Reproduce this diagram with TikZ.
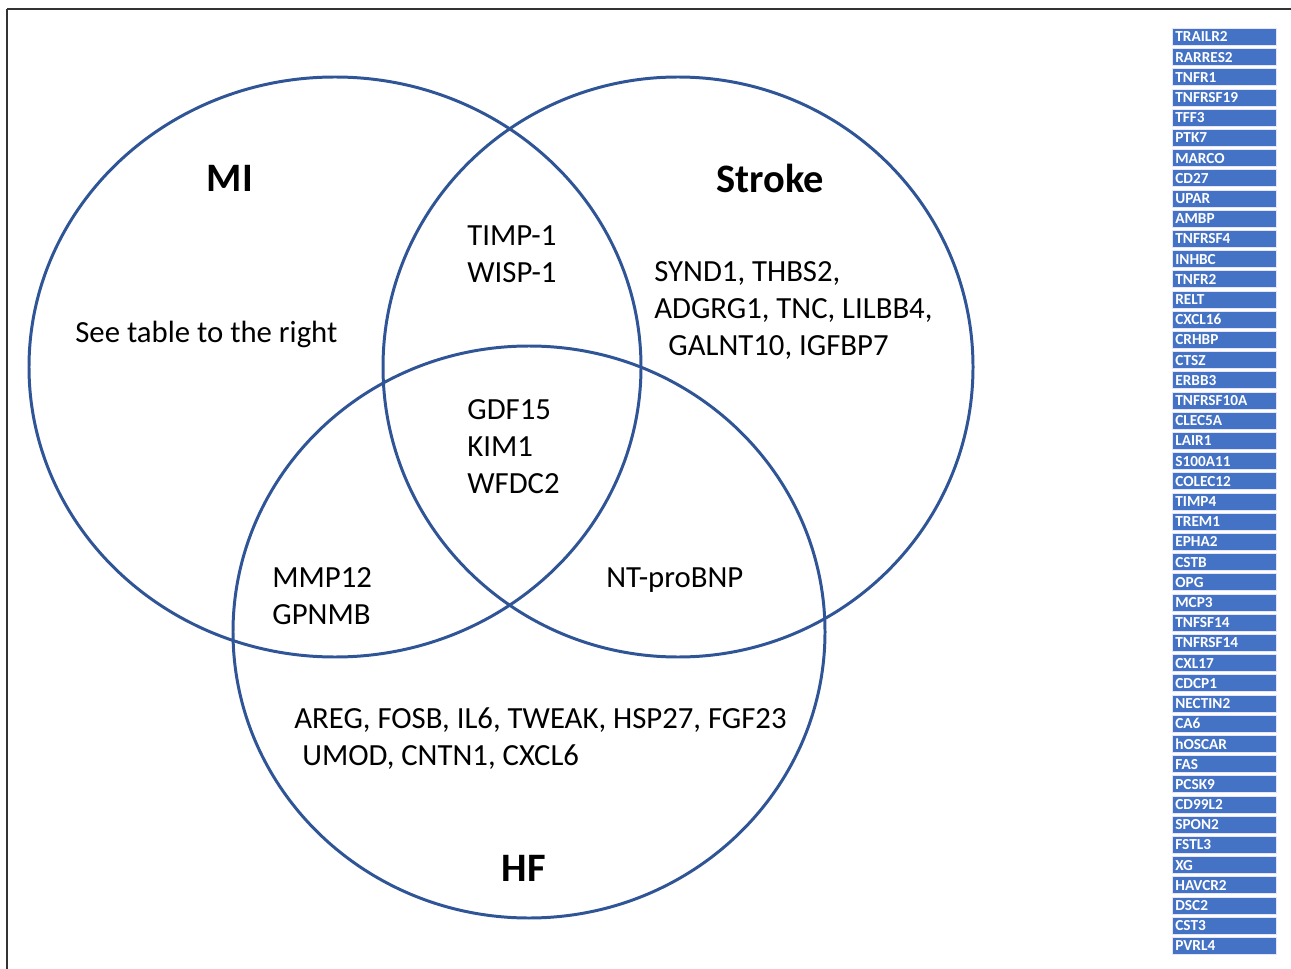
\documentclass[tikz,border=0pt]{standalone}
\usepackage{fontspec}
\setmainfont{Carlito}
\definecolor{vennblue}{RGB}{47,85,151}
\definecolor{tableblue}{RGB}{68,114,196}
\tikzset{
  venn/.style={draw=vennblue, line width=1.7pt},
  setlabel/.style={font=\fontsize{23}{27}\selectfont\bfseries, inner sep=0pt},
  genes/.style={font=\fontsize{17.5}{21}\selectfont, align=left, anchor=north west, inner sep=0pt},
  genebox/.style={fill=tableblue, draw=blue!10!white, line width=0.4pt, anchor=north west,
    minimum width=2.08cm, minimum height=0.34cm, text width=1.96cm, inner xsep=0.06cm, inner ysep=0pt,
    align=left, text=white, font=\fontsize{8.7}{9}\selectfont\bfseries}
}
\begin{document}
\begin{tikzpicture}[x=0.02cm, y=-0.02cm]
    \useasboundingbox (0,0) rectangle (1291,969);
    % 枠
    \draw[line width=1.4pt, black!80] (7,9) -- (1320,9);
    \draw[line width=1.4pt, black!80] (7,9) -- (7,990);
    % 円
    \coordinate (mi) at (335,367);
    \coordinate (stroke) at (678,367);
    \coordinate (hf) at (529,632);
    \draw[venn] (mi) ellipse [x radius=306, y radius=290];
    \draw[venn] (stroke) ellipse [x radius=295, y radius=290];
    \draw[venn] (hf) ellipse [x radius=296, y radius=286];
    % ラベル
    \node[setlabel] (milabel) at (230,178) {MI};
    \node[setlabel] (strokelabel) at (770,178) {Stroke};
    \node[setlabel] (hflabel) at (524,868) {HF};
    % 遺伝子
    \node[genes] (mionly) at (75,321) {See table to the right};
    \node[genes] (mistroke) at (467,225) {TIMP-1\\WISP-1};
    \node[genes] (strokeonly) at (654,261) {SYND1, THBS2,\\ADGRG1, TNC, LILBB4,\\\hspace{8pt}GALNT10, IGFBP7};
    \node[genes] (allthree) at (467,399) {GDF15\\KIM1\\WFDC2};
    \node[genes] (mihf) at (272,567) {MMP12\\GPNMB};
    \node[genes] (strokehf) at (606,567) {NT-proBNP};
    \node[genes] (hfonly) at (294,707) {AREG, FOSB, IL6, TWEAK, HSP27, FGF23\\\hspace{4.5pt}UMOD, CNTN1, CXCL6};
    % 表
    \foreach \g [count=\i] in {TRAILR2, RARRES2, TNFR1, TNFRSF19, TFF3, PTK7, MARCO, CD27, UPAR, AMBP,
      TNFRSF4, INHBC, TNFR2, RELT, CXCL16, CRHBP, CTSZ, ERBB3, TNFRSF10A, CLEC5A, LAIR1, S100A11,
      COLEC12, TIMP4, TREM1, EPHA2, CSTB, OPG, MCP3, TNFSF14, TNFRSF14, CXL17, CDCP1, NECTIN2, CA6,
      hOSCAR, FAS, PCSK9, CD99L2, SPON2, FSTL3, XG, HAVCR2, DSC2, CST3, PVRL4}
      \node[genebox] (g\i) at (1172,{28+(\i-1)*20.2}) {\g};
\end{tikzpicture}
\end{document}
